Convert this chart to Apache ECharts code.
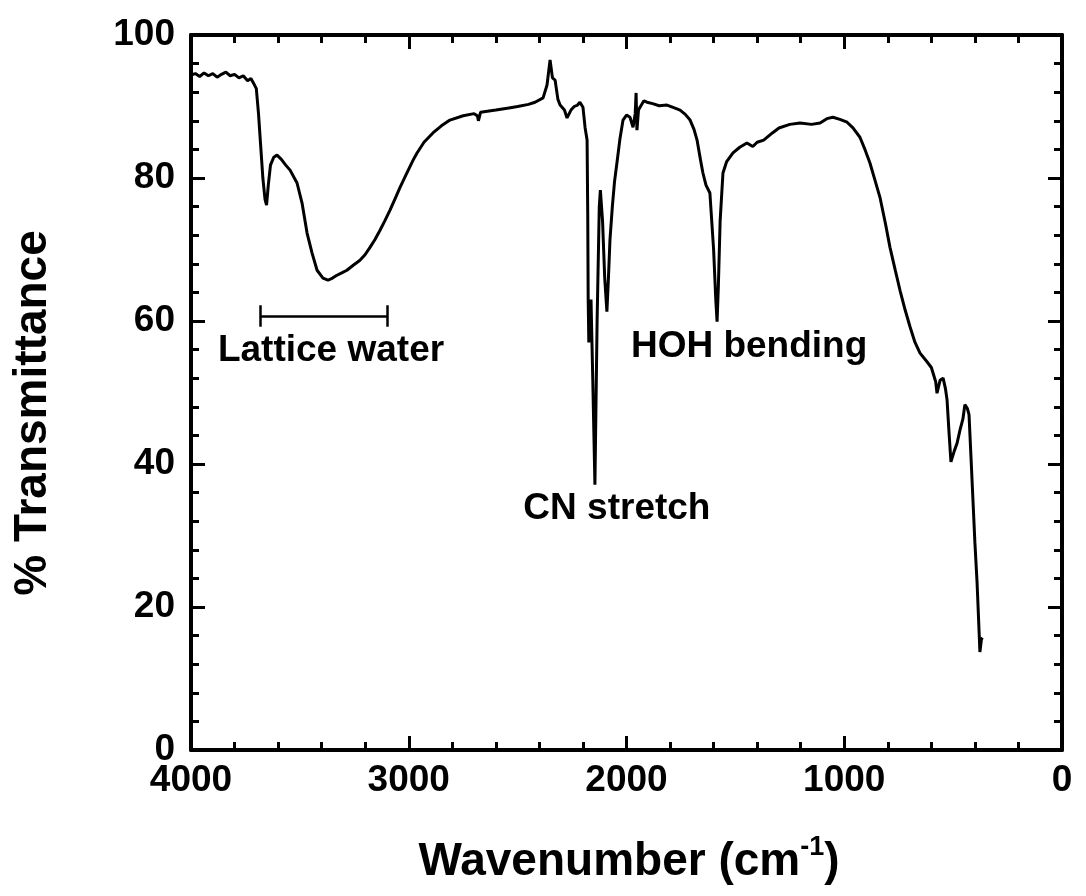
<!DOCTYPE html>
<html>
<head>
<meta charset="utf-8">
<script src="https://cdn.jsdelivr.net/npm/echarts@6/dist/echarts.min.js"></script>
<style>
html,body{margin:0;padding:0;background:#fff;}
#chart{width:1086px;height:896px;}
</style>
</head>
<body>
<div id="chart"></div>
<script>
// Wavenumber (cm^-1) values of the spectrum
const wavenumber = [4000,3980,3960,3940,3920,3900,3880,3860,3840,3820,3800,3780,3760,3740,3725,3710,3700,3690,3680,3670,3660,3653,3645,3635,3620,3605,3585,3565,3545,3513,3490,3467,3444,3421,3394,3371,3350,3330,3310,3284,3255,3224,3200,3178,3155,3132,3110,3086,3060,3040,3010,2980,2962,2930,2889,2850,2811,2750,2700,2685,2680,2670,2600,2540,2500,2450,2420,2383,2365,2351,2340,2328,2315,2305,2285,2273,2255,2240,2225,2214,2200,2190,2181,2178,2176,2173,2168,2163,2155,2145,2135,2125,2120,2110,2100,2090,2083,2076,2065,2055,2044,2030,2016,2000,1984,1970,1960,1956,1952,1945,1938,1920,1906,1880,1850,1814,1780,1754,1730,1708,1690,1676,1660,1649,1635,1617,1600,1590,1584,1578,1570,1557,1540,1511,1480,1447,1420,1400,1370,1330,1300,1250,1203,1150,1111,1080,1052,1020,987,960,928,905,882,860,836,810,790,765,744,720,698,675,652,620,600,592,580,574,560,546,535,528,518,510,495,482,468,455,446,435,427,418,409,400,390,380,377,370,365];
// % Transmittance values
const transmittance = [94.4,94.6,94.2,94.7,94.3,94.6,94.1,94.5,94.8,94.3,94.5,94.0,94.3,93.6,93.9,93.1,92.5,89.0,84.5,80.0,77.0,76.2,79.0,81.8,82.9,83.2,82.6,81.8,81.1,79.3,76.5,72.3,69.5,67.1,66.0,65.7,66.0,66.4,66.7,67.1,67.8,68.5,69.3,70.3,71.4,72.7,74.0,75.5,77.3,78.7,80.6,82.5,83.5,85.0,86.3,87.3,88.1,88.7,89.0,88.7,88.0,89.2,89.5,89.8,90.0,90.3,90.6,91.2,93.0,96.5,94.0,93.7,91.0,90.2,89.5,88.4,89.5,90.0,90.2,90.6,89.9,87.0,85.3,75.0,63.0,57.0,60.0,63.0,52.0,37.1,60.0,76.0,78.3,74.0,66.0,61.3,66.0,71.3,76.0,79.5,82.1,85.5,88.1,88.8,88.5,87.1,89.0,91.9,86.7,89.5,89.9,90.8,90.6,90.4,90.1,90.2,89.8,89.5,88.9,88.1,86.8,85.3,82.5,80.7,79.0,77.9,70.0,63.0,59.9,65.0,74.0,80.7,82.3,83.5,84.3,84.9,84.4,85.0,85.3,86.3,87.0,87.5,87.7,87.5,87.7,88.3,88.5,88.2,87.8,87.0,85.7,84.0,82.1,79.8,77.3,73.5,70.3,67.0,64.3,61.5,59.2,57.0,55.5,54.3,53.5,53.3,51.5,49.9,51.7,52.0,50.5,49.0,44.0,40.3,41.8,42.9,44.8,46.3,48.3,47.8,46.9,41.0,35.0,29.0,23.4,16.0,13.7,15.5,15.7];
// Annotation texts and their anchor positions (wavenumber, %T)
const annotationText = ['Lattice water','CN stretch','HOH bending'];
const annotationX = [3357, 2044, 1437];
const annotationY = [55.9, 33.8, 56.4];
// Lattice water range bracket (wavenumber range and level)
const bracketRange = [3680, 3100];
const bracketLevel = 60.7;
const bracketCap = [59.2, 62.2];
// Axis ticks
const xTickLabels = [0,1000,2000,3000,4000];
const yTickLabels = [0,20,40,60,80,100];

const spectrum = wavenumber.map((w,i)=>[w, transmittance[i]]);
const annotations = annotationText.map((t,i)=>({name:t, value:[annotationX[i], annotationY[i]]}));

const FONT = '"Liberation Sans", Arial, sans-serif';
const axisCommon = {
  axisLine:{show:true, onZero:false, lineStyle:{color:'#000', width:4}},
  axisTick:{show:true, inside:true, length:14, lineStyle:{color:'#000', width:3}},
  minorTick:{show:true, splitNumber:5, length:8, lineStyle:{color:'#000', width:3}},
  splitLine:{show:false},
  minorSplitLine:{show:false}
};
const xBase = Object.assign({type:'value', min:xTickLabels[0], max:xTickLabels[xTickLabels.length-1], interval:1000, inverse:true}, axisCommon);
const yBase = Object.assign({type:'value', min:yTickLabels[0], max:yTickLabels[yTickLabels.length-1], interval:20}, axisCommon);
const labelStyle = {show:true, showMinLabel:true, showMaxLabel:true, color:'#000', fontSize:37, fontWeight:'bold', fontFamily:FONT, formatter:v=>String(v)};

const chart = echarts.init(document.getElementById('chart'), null, {renderer:'canvas'});
chart.setOption({
  animation:false,
  backgroundColor:'#fff',
  grid:{left:191, right:24, top:35, bottom:146, containLabel:false, outerBoundsMode:'none'},
  xAxis:[
    Object.assign({}, xBase, {position:'bottom', axisLabel:Object.assign({margin:12}, labelStyle)}),
    Object.assign({}, xBase, {position:'top', axisLabel:{show:false}})
  ],
  yAxis:[
    Object.assign({}, yBase, {position:'left', axisLabel:Object.assign({margin:16}, labelStyle)}),
    Object.assign({}, yBase, {position:'right', axisLabel:{show:false}})
  ],
  series:[
    {
      type:'line', name:'Spectrum', data:spectrum, showSymbol:false, symbol:'none',
      lineStyle:{color:'#000', width:3}, clip:true, z:5,
      markLine:{
        silent:true, symbol:['none','none'], label:{show:false},
        lineStyle:{color:'#000', width:2.5, type:'solid', opacity:1},
        data:[
          [{coord:[bracketRange[0], bracketLevel]},{coord:[bracketRange[1], bracketLevel]}],
          [{coord:[bracketRange[0], bracketCap[0]]},{coord:[bracketRange[0], bracketCap[1]]}],
          [{coord:[bracketRange[1], bracketCap[0]]},{coord:[bracketRange[1], bracketCap[1]]}]
        ]
      }
    },
    {
      type:'scatter', name:'Annotations', data:annotations, symbolSize:0, silent:true,
      itemStyle:{opacity:1, color:'#000'},
      label:{show:true, position:'inside', formatter:p=>p.name, color:'#000', opacity:1, fontSize:37, fontWeight:'bold', fontFamily:FONT}
    }
  ],
  graphic:[
    {
      type:'text', x:33, y:413, rotation:Math.PI/2,
      style:{text:'% Transmittance', fill:'#000', font:'bold 46px '+FONT, textAlign:'center', textVerticalAlign:'middle'}
    },
    {
      type:'text', x:629, y:862,
      style:{
        text:'{a|Wavenumber (cm}{s|-1}{a|)}', textAlign:'center', textVerticalAlign:'middle',
        rich:{
          a:{fontSize:46, fontWeight:'bold', fontFamily:FONT, fill:'#000', color:'#000', lineHeight:56},
          s:{fontSize:27, fontWeight:'bold', fontFamily:FONT, fill:'#000', color:'#000', verticalAlign:'top', lineHeight:56, padding:[0,0,22,0]}
        }
      }
    }
  ]
});
</script>
</body>
</html>
